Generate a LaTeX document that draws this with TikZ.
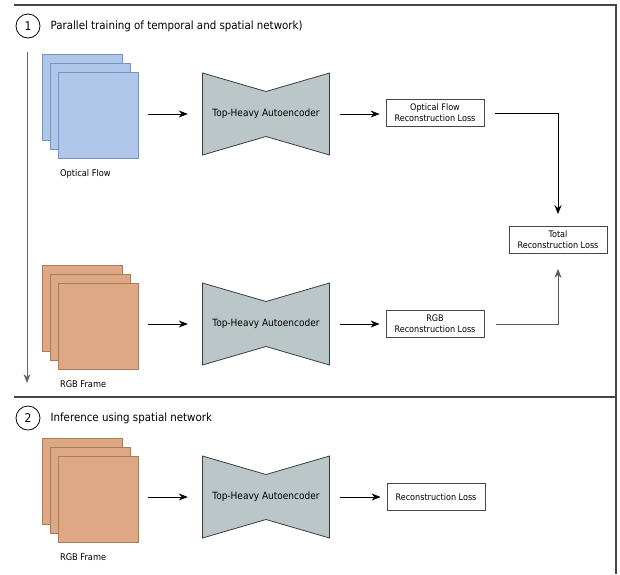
\documentclass[tikz,border=0pt]{standalone}
\usepackage{fontspec}
\setmainfont{DejaVu Sans Condensed}
\usepackage{tikz}
\usetikzlibrary{positioning, arrows.meta, calc}

\definecolor{flowblue}{RGB}{175,199,232}
\definecolor{flowedge}{RGB}{120,145,190}
\definecolor{rgbtan}{RGB}{222,168,132}
\definecolor{rgbedge}{RGB}{170,125,95}
\definecolor{aegray}{RGB}{187,198,201}
\definecolor{aeedge}{RGB}{55,62,64}
\definecolor{rule}{RGB}{70,70,70}

\begin{document}
\begin{tikzpicture}[x=1pt, y=-1pt, font=\fontsize{10}{11}\selectfont]
    \tikzset{
        flow/.style={rectangle, draw=flowedge, fill=flowblue, inner sep=0pt,
                     minimum width=80pt, minimum height=86pt},
        rgb/.style={rectangle, draw=rgbedge, fill=rgbtan, inner sep=0pt,
                    minimum width=80pt, minimum height=86pt},
        bowtie/.style={minimum width=128pt, minimum height=83pt, inner sep=0pt,
            path picture={
                \draw[draw=aeedge, fill=aegray, line width=0.8pt]
                    ([shift={(0.5pt,-0.5pt)}]path picture bounding box.north west)
                    -- ([shift={(0pt,-19pt)}]path picture bounding box.north)
                    -- ([shift={(-0.5pt,-0.5pt)}]path picture bounding box.north east)
                    -- ([shift={(-0.5pt,0.5pt)}]path picture bounding box.south east)
                    -- ([shift={(0pt,19pt)}]path picture bounding box.south)
                    -- ([shift={(0.5pt,0.5pt)}]path picture bounding box.south west)
                    -- cycle;
            }},
        loss/.style={rectangle, draw=rule, thick, fill=white, align=center,
                     minimum width=98pt, minimum height=27pt, inner sep=1pt,
                     font=\fontsize{9}{11}\selectfont},
        num/.style={circle, draw=black, thick, minimum size=24pt, inner sep=0pt,
                    font=\fontsize{12}{14}\selectfont},
        title/.style={anchor=west, inner sep=0pt, font=\fontsize{11.4}{14}\selectfont},
        lbl/.style={anchor=north west, inner sep=0pt, font=\fontsize{9.2}{11}\selectfont},
        arrow/.style={thick, -{Stealth[length=9pt, width=7pt]}},
        frame/.style={rule, line width=1.2pt}
    }
    \useasboundingbox (0,0) rectangle (620,574);

    % outer frame and separator
    \coordinate (tl) at (14,5);
    \coordinate (tr) at (616,5);
    \coordinate (br) at (616,574);
    \coordinate (ml) at (14,397);
    \coordinate (mr) at (616,397);
    \draw[frame] (tl) -- (tr) -- (br);
    \draw[frame] (ml) -- (mr);

    % part 1
    \node[num] (n1) at (28,26) {1};
    \node[title, right=10pt of n1] (t1) {Parallel training of temporal and spatial network)};
    \coordinate (tstart) at (27,52);
    \coordinate (tend) at (27,383);
    \draw[arrow, gray!80!black] (tstart) -- (tend);

    \node[flow] (of1) at (82,97) {};
    \node[flow] (of2) at (90,106) {};
    \node[flow] (of3) at (98,115) {};
    \node[lbl, below right=11pt and 2pt of of3.south west] (oflbl) {Optical Flow};
    \node[bowtie] (ae1) at (266,114) {Top-Heavy Autoencoder};
    \node[loss] (ofloss) at (435,113) {Optical Flow\\Reconstruction Loss};

    \node[rgb] (rf1) at (82,308) {};
    \node[rgb] (rf2) at (90,317) {};
    \node[rgb] (rf3) at (98,326) {};
    \node[lbl, below right=11pt and 2pt of rf3.south west] (rflbl) {RGB Frame};
    \node[bowtie] (ae2) at (266,324) {Top-Heavy Autoencoder};
    \node[loss] (rgbloss) at (435,324) {RGB\\Reconstruction Loss};

    \node[loss] (total) at (558,240) {Total\\Reconstruction Loss};

    \draw[arrow, shorten <=10pt, shorten >=14pt] (of3.east |- ae1) -- (ae1.west);
    \draw[arrow, shorten <=10pt, shorten >=6pt] (ae1.east) -- (ofloss.west |- ae1);
    \draw[arrow, shorten <=11pt, shorten >=12pt] (ofloss.east) -| (total.north);
    \draw[arrow, shorten <=10pt, shorten >=14pt] (rf3.east |- ae2) -- (ae2.west);
    \draw[arrow, shorten <=10pt, shorten >=6pt] (ae2.east) -- (rgbloss.west);
    \draw[arrow, gray!70!black, shorten <=12pt, shorten >=15pt] (rgbloss.east) -| (total.south);

    % part 2
    \node[num] (n2) at (28,418) {2};
    \node[title, right=10pt of n2] (t2) {Inference using spatial network};

    \node[rgb] (sf1) at (82,481) {};
    \node[rgb] (sf2) at (90,490) {};
    \node[rgb] (sf3) at (98,499) {};
    \node[lbl, below right=11pt and 2pt of sf3.south west] (sflbl) {RGB Frame};
    \node[bowtie] (ae3) at (266,497) {Top-Heavy Autoencoder};
    \node[loss] (sloss) at (436,497) {Reconstruction Loss};

    \draw[arrow, shorten <=10pt, shorten >=14pt] (sf3.east |- ae3) -- (ae3.west);
    \draw[arrow, shorten <=10pt, shorten >=6pt] (ae3.east) -- (sloss.west);
\end{tikzpicture}
\end{document}
